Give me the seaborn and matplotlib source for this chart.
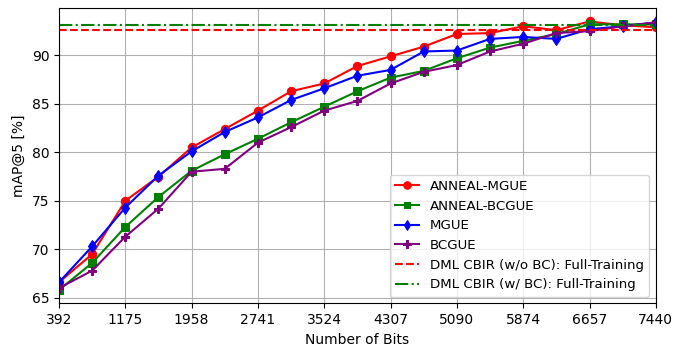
import numpy as np
import pandas as pd
import seaborn as sns
import matplotlib.pyplot as plt

bits = [392, 784, 1175, 1567, 1958, 2350, 2741, 3133, 3524, 3916,
        4307, 4699, 5090, 5482, 5874, 6265, 6657, 7049, 7440]
tick_bits = [392, 1175, 1958, 2741, 3524, 4307, 5090, 5874, 6657, 7440]

anneal_mgue = [66.6, 69.5, 75.0, 77.5, 80.5, 82.4, 84.3, 86.3, 87.1, 88.9,
               89.9, 90.9, 92.2, 92.3, 93.0, 92.6, 93.5, 93.1, 92.9]
anneal_bcgue = [65.8, 68.6, 72.3, 75.4, 78.1, 79.8, 81.4, 83.1, 84.7, 86.3,
                87.7, 88.4, 89.7, 90.8, 91.5, 92.2, 93.2, 93.2, 93.2]
mgue = [66.6, 70.3, 74.3, 77.6, 80.1, 82.1, 83.6, 85.4, 86.6, 87.9,
        88.5, 90.4, 90.5, 91.7, 91.9, 91.7, 92.7, 93.0, 93.4]
bcgue = [66.0, 67.8, 71.3, 74.2, 78.0, 78.3, 81.0, 82.6, 84.3, 85.3,
         87.1, 88.3, 89.0, 90.4, 91.2, 92.3, 92.5, 93.0, 93.4]

full_wo_bc = 92.6
full_w_bc = 93.1

series = {
    "ANNEAL-MGUE": (anneal_mgue, "red", "o", 6),
    "ANNEAL-BCGUE": (anneal_bcgue, "green", "s", 5.5),
    "MGUE": (mgue, "blue", "d", 6),
    "BCGUE": (bcgue, "purple", "P", 6),
}

fig, ax = plt.subplots(figsize=(6.94, 3.48), dpi=100)

for name, (vals, color, marker, ms) in series.items():
    df = pd.DataFrame({"bits": bits, "map": vals})
    sns.lineplot(data=df, x="bits", y="map", ax=ax, color=color, marker=marker,
                 markersize=ms, markeredgecolor=color, linewidth=1.5, label=name)

ax.axhline(full_wo_bc, color="red", linestyle="--", linewidth=1.5,
           label="DML CBIR (w/o BC): Full-Training")
ax.axhline(full_w_bc, color="green", linestyle="-.", linewidth=1.5,
           label="DML CBIR (w/ BC): Full-Training")

ax.set_xlim(bits[0], bits[-1])
ax.set_xticks(tick_bits)
ax.set_xlabel("Number of Bits")
ax.set_ylabel("mAP@5 [%]")
ax.grid(True)
ax.legend(loc="lower right", markerscale=0.9, fontsize=9.6, handlelength=1.8)

plt.subplots_adjust(left=0.085, right=0.945, top=0.977, bottom=0.128)
plt.savefig("out.png", dpi=100)
plt.close()
